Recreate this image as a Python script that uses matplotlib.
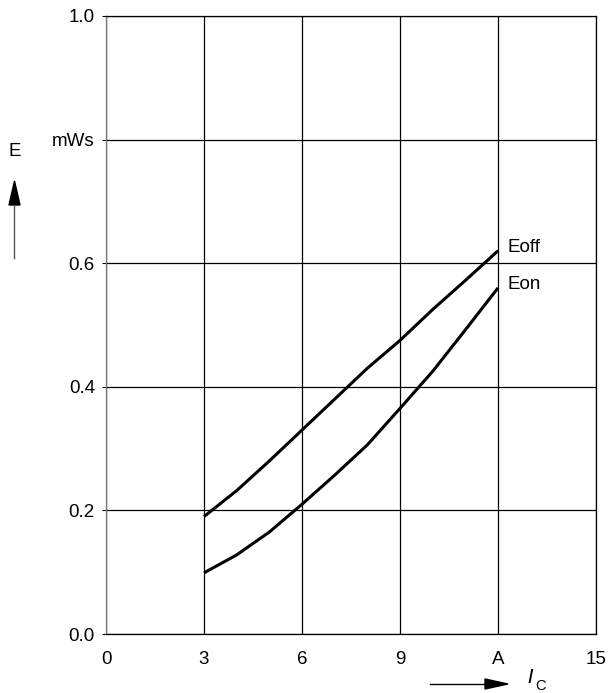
import matplotlib.pyplot as plt

plt.rcParams['font.family'] = ['Liberation Sans', 'DejaVu Sans']

# switching energy vs collector current
ic = [3, 4, 5, 6, 7, 8, 9, 10, 11, 12]
e_off = [0.19, 0.232, 0.28, 0.33, 0.38, 0.43, 0.475, 0.525, 0.572, 0.62]
e_on = [0.099, 0.128, 0.165, 0.21, 0.257, 0.306, 0.365, 0.425, 0.492, 0.56]

x_ticks = [0, 3, 6, 9, 12, 15]
x_labels = ['0', '3', '6', '9', 'A', '15']
y_ticks = [0.0, 0.2, 0.4, 0.6, 0.8, 1.0]
y_labels = ['0.0', '0.2', '0.4', '0.6', 'mWs', '1.0']

fig = plt.figure(figsize=(6.11, 6.93), dpi=100)
ax = fig.add_axes([0.1735, 0.0851, 0.802, 0.892])

ax.plot(ic, e_off, color='black', lw=2.2, solid_capstyle='butt')
ax.plot(ic, e_on, color='black', lw=2.2, solid_capstyle='butt')

ax.set_xlim(0, 15)
ax.set_ylim(0, 1.0)
ax.set_xticks(x_ticks)
ax.set_xticklabels(x_labels)
ax.set_yticks(y_ticks)
ax.set_yticklabels(y_labels)
ax.tick_params(axis='both', labelsize=13.5, colors='black')
ax.tick_params(axis='x', length=0, pad=12)
ax.tick_params(axis='y', length=3, width=0.8, pad=5)
ax.grid(True, color='black', lw=0.9)
for s in ax.spines.values():
    s.set_color('black')
    s.set_linewidth(0.9)
ax.spines['left'].set_color('#777777')

ax.text(12.3, e_off[-1] + 0.006, 'Eoff', fontsize=13.5, va='center', ha='left')
ax.text(12.3, e_on[-1] + 0.006, 'Eon', fontsize=13.5, va='center', ha='left')

# axis labels with arrows
fig.text(8 / 611, 1 - 152 / 693, 'E', fontsize=13.5, ha='left', va='center')
fig.add_artist(plt.Line2D([14 / 611, 14 / 611], [1 - 258 / 693, 1 - 205 / 693],
                          color='#555555', lw=1))
fig.add_artist(plt.Polygon([[9 / 611, 1 - 205 / 693], [20 / 611, 1 - 205 / 693],
                            [14.5 / 611, 1 - 181 / 693]], closed=True, color='black'))

fig.add_artist(plt.Line2D([430 / 611, 485 / 611], [1 - 684 / 693, 1 - 684 / 693],
                          color='black', lw=1))
fig.add_artist(plt.Polygon([[485 / 611, 1 - 679 / 693], [485 / 611, 1 - 689 / 693],
                            [508 / 611, 1 - 684 / 693]], closed=True, color='black'))
fig.text(527 / 611, 1 - 678 / 693, r'$\mathit{I}$', fontsize=14, ha='left', va='center')
fig.text(535 / 611, 1 - 686 / 693, 'C', fontsize=10.5, ha='left', va='center')

fig.savefig('out.png', dpi=100)
